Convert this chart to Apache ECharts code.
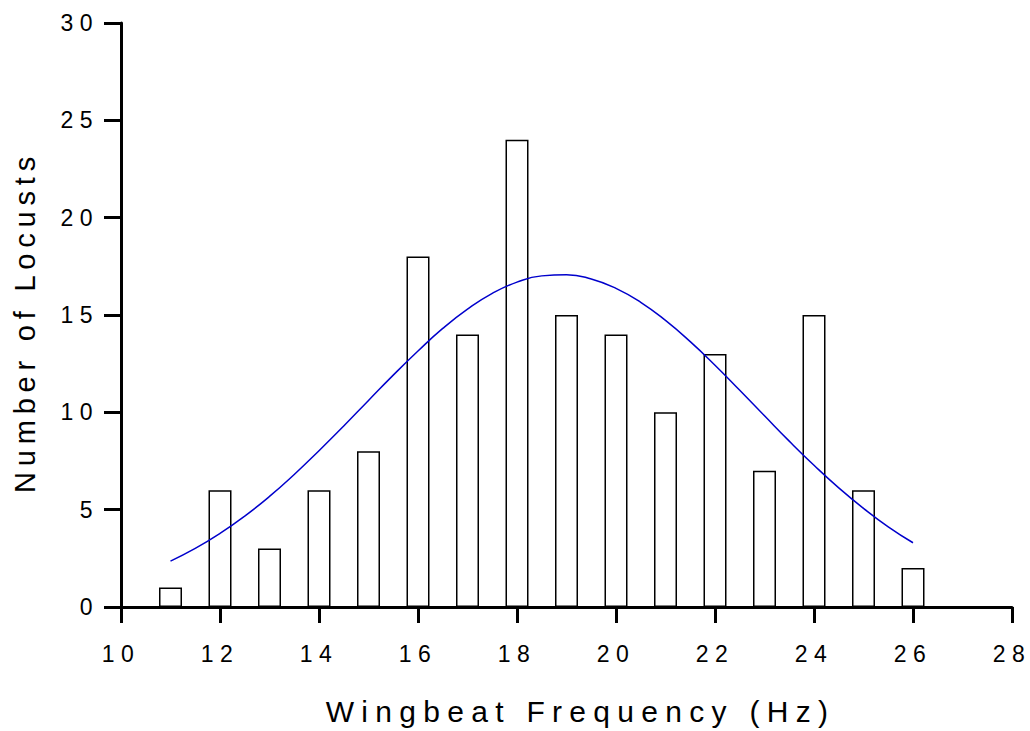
<!DOCTYPE html>
<html>
<head>
<meta charset="utf-8">
<script src="https://cdn.jsdelivr.net/npm/echarts@6/dist/echarts.min.js"></script>
<style>
  html, body { margin: 0; padding: 0; background: #fff; }
  #chart { width: 1030px; height: 731px; }
  #chart text { letter-spacing: 0.25em; }
  #chart text[style*="23px"] { letter-spacing: 6.5px; }
  #chart text[style*="30px"] { letter-spacing: 7.3px; }
  #chart text[style*="29px"] { letter-spacing: 5.8px; }
</style>
</head>
<body>
<div id="chart"></div>
<script>
// Histogram: wingbeat frequency (Hz) vs number of locusts
const binCenters = [11, 12, 13, 14, 15, 16, 17, 18, 19, 20, 21, 22, 23, 24, 25, 26];
const counts     = [1, 6, 3, 6, 8, 18, 14, 24, 15, 14, 10, 13, 7, 15, 6, 2];

// Fitted curve, values
const curveX = [11, 11.5, 12, 12.5, 13, 13.5, 14, 14.5, 15, 15.5, 16, 16.5, 17, 17.5, 18, 18.5,
                19, 19.5, 20, 20.5, 21, 21.5, 22, 22.5, 23, 23.5, 24, 24.5, 25, 25.5, 26];
const curveY = [2.36, 3.01, 3.78, 4.67, 5.68, 6.81, 8.03, 9.30, 10.61, 11.91, 13.15, 14.31, 15.30, 16.11, 16.69, 17.01,
                17.07, 16.85, 16.37, 15.65, 14.72, 13.63, 12.42, 11.13, 9.82, 8.52, 7.28, 6.12, 5.07, 4.12, 3.30];

const xTicks = { min: 10, max: 28, step: 2 };
const yTicks = { min: 0, max: 30, step: 5 };

const xTitle = 'Wingbeat Frequency (Hz)';
const yTitle = 'Number of Locusts';

const chart = echarts.init(document.getElementById('chart'), null, { renderer: 'svg' });
const font = '"Liberation Sans", Arial, sans-serif';

chart.setOption({
  animation: false,
  backgroundColor: '#ffffff',
  grid: { left: 121, right: 18, top: 23, bottom: 122, containLabel: false },
  xAxis: {
    type: 'value',
    min: xTicks.min, max: xTicks.max, interval: xTicks.step,
    name: xTitle,
    nameLocation: 'middle',
    nameGap: 89,
    nameTextStyle: { fontFamily: font, fontSize: 30, color: '#000', padding: [0, 0, 0, 28] },
    axisLine: { show: true, onZero: false, lineStyle: { color: '#000', width: 3 } },
    axisTick: { show: true, inside: false, length: 16, lineStyle: { color: '#000', width: 3 } },
    axisLabel: { fontFamily: font, fontSize: 23, color: '#000', margin: 35 },
    splitLine: { show: false }
  },
  yAxis: {
    type: 'value',
    min: yTicks.min, max: yTicks.max, interval: yTicks.step,
    name: yTitle,
    nameLocation: 'middle',
    nameGap: 82,
    nameRotate: 90,
    nameTextStyle: { fontFamily: font, fontSize: 29, color: '#000', padding: [0, 14, 0, 0] },
    axisLine: { show: true, lineStyle: { color: '#000', width: 3 } },
    axisTick: { show: true, inside: false, length: 17, lineStyle: { color: '#000', width: 3 } },
    axisLabel: { fontFamily: font, fontSize: 23, color: '#000', margin: 22 },
    splitLine: { show: false }
  },
  series: [
    {
      type: 'bar',
      data: binCenters.map((x, i) => [x, counts[i]]),
      barWidth: 23,
      itemStyle: { color: '#ffffff', borderColor: '#000000', borderWidth: 1.5 },
      silent: true
    },
    {
      type: 'line',
      data: curveX.map((x, i) => [x, curveY[i]]),
      smooth: true,
      showSymbol: false,
      lineStyle: { color: '#0000cc', width: 1.5 },
      silent: true
    }
  ]
});
</script>
</body>
</html>
